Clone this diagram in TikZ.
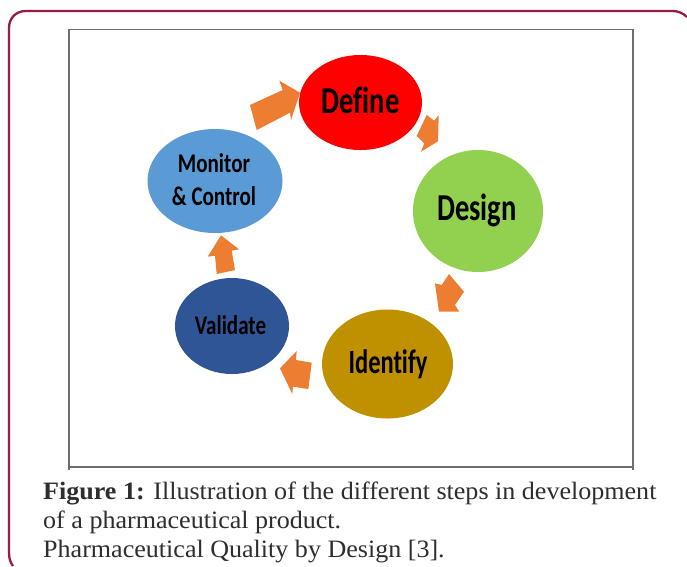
\documentclass[tikz,border=0pt]{standalone}
\usepackage{fontspec}
\setmainfont{Liberation Serif}
\newfontfamily\lab[Ligatures=NoCommon,BoldFont={Carlito Bold}]{Carlito}
\usetikzlibrary{shapes.geometric}
\definecolor{maroonb}{HTML}{9B1B47}
\definecolor{framec}{HTML}{6E6E6E}
\definecolor{arrowc}{HTML}{ED7D31}
\definecolor{capc}{HTML}{2E2E2E}
\tikzset{
  x=1pt,y=-1pt,
  stage/.style={ellipse,inner sep=0pt,outer sep=0pt},
  stagetext/.style={inner sep=0pt,text=black},
  blockarrow/.style={fill=arrowc,draw=none},
  capline/.style={anchor=base west,inner sep=0pt,text=capc,xscale=1.042,font=\fontsize{25}{25}\selectfont},
}
\begin{document}
\begin{tikzpicture}
\useasboundingbox (0,0) rectangle (687,566);
\fill[white] (0,0) rectangle (687,566);
\draw[maroonb,line width=2.3pt] (687,17) .. controls (683,13) and (678,11) .. (672,11) -- (26,11)
  .. controls (16,11) and (9,18) .. (9,28) -- (9,552) .. controls (9,558) and (10,562) .. (13,566);
\draw[framec,line width=1.6pt] (69,470) -- (69,29.5) -- (633,29.5) -- (633,470);
\draw[framec,line width=1.6pt] (69,467) -- (633,467);

\node[stage,fill=red,minimum width=123pt,minimum height=95pt] (define) at (360.5,102.5) {};
\node[stage,fill={rgb,255:red,146;green,208;blue,80},minimum width=130pt,minimum height=122pt] (design) at (478,211) {};
\node[stage,fill={rgb,255:red,191;green,144;blue,0},minimum width=131pt,minimum height=109pt] (identify) at (387.5,364) {};
\node[stage,fill={rgb,255:red,47;green,85;blue,151},minimum width=114pt,minimum height=96pt] (validate) at (232,326) {};
\node[stage,fill={rgb,255:red,91;green,155;blue,213},minimum width=135pt,minimum height=104pt] (monitor) at (215,181) {};

\node[stagetext,font=\lab\bfseries\fontsize{38}{38}\selectfont,xscale=.75] (tdefine) at (360.5,100) {Define};
\node[stagetext,font=\lab\bfseries\fontsize{38}{38}\selectfont,xscale=.75] (tdesign) at (477,210) {Design};
\node[stagetext,font=\lab\bfseries\fontsize{34}{34}\selectfont,xscale=.72] (tidentify) at (388,364) {Identify};
\node[stagetext,font=\lab\bfseries\fontsize{27}{27}\selectfont,xscale=.78] (tvalidate) at (230.5,325) {Validate};
\node[stagetext,font=\lab\bfseries\fontsize{27}{27}\selectfont,xscale=.78] (tmon) at (214,163) {Monitor};
\node[stagetext,font=\lab\bfseries\fontsize{27}{27}\selectfont,xscale=.78] (tctl) at (214,196) {\&\ Control};

\fill[blockarrow] (250,105) -- (256.7,130) -- (290,112.7) -- (291,120) -- (300,92.7) -- (279.3,80.7) -- (282.7,90) -- cycle;
\fill[blockarrow] (426.7,115) -- (434.3,120.7) -- (438.7,115) -- (438,141.3) -- (421,151.7) -- (424.3,143.3) -- (416.7,136) -- cycle;
\fill[blockarrow] (449,274) -- (464,291.7) -- (455,305) -- (459.3,311.7) -- (439,311.7) -- (435,283.3) -- (441.7,285) -- cycle;
\fill[blockarrow] (311.7,362.7) -- (308.3,389) -- (293,386.7) -- (292.3,394) -- (280,368.3) -- (296.7,351) -- (296,360) -- cycle;
\fill[blockarrow] (221,235.3) -- (239,249.3) -- (231.7,250.7) -- (235,270) -- (216.7,274) -- (215,255.7) -- (207.7,256.7) -- cycle;

\node[capline] (cap1) at (43,499) {\textbf{Figure 1:} Illustration of the different steps in development};
\node[capline] (cap2) at (43,528) {of a pharmaceutical product.};
\node[capline] (cap3) at (43,557) {Pharmaceutical Quality by Design [3].};
\end{tikzpicture}
\end{document}
